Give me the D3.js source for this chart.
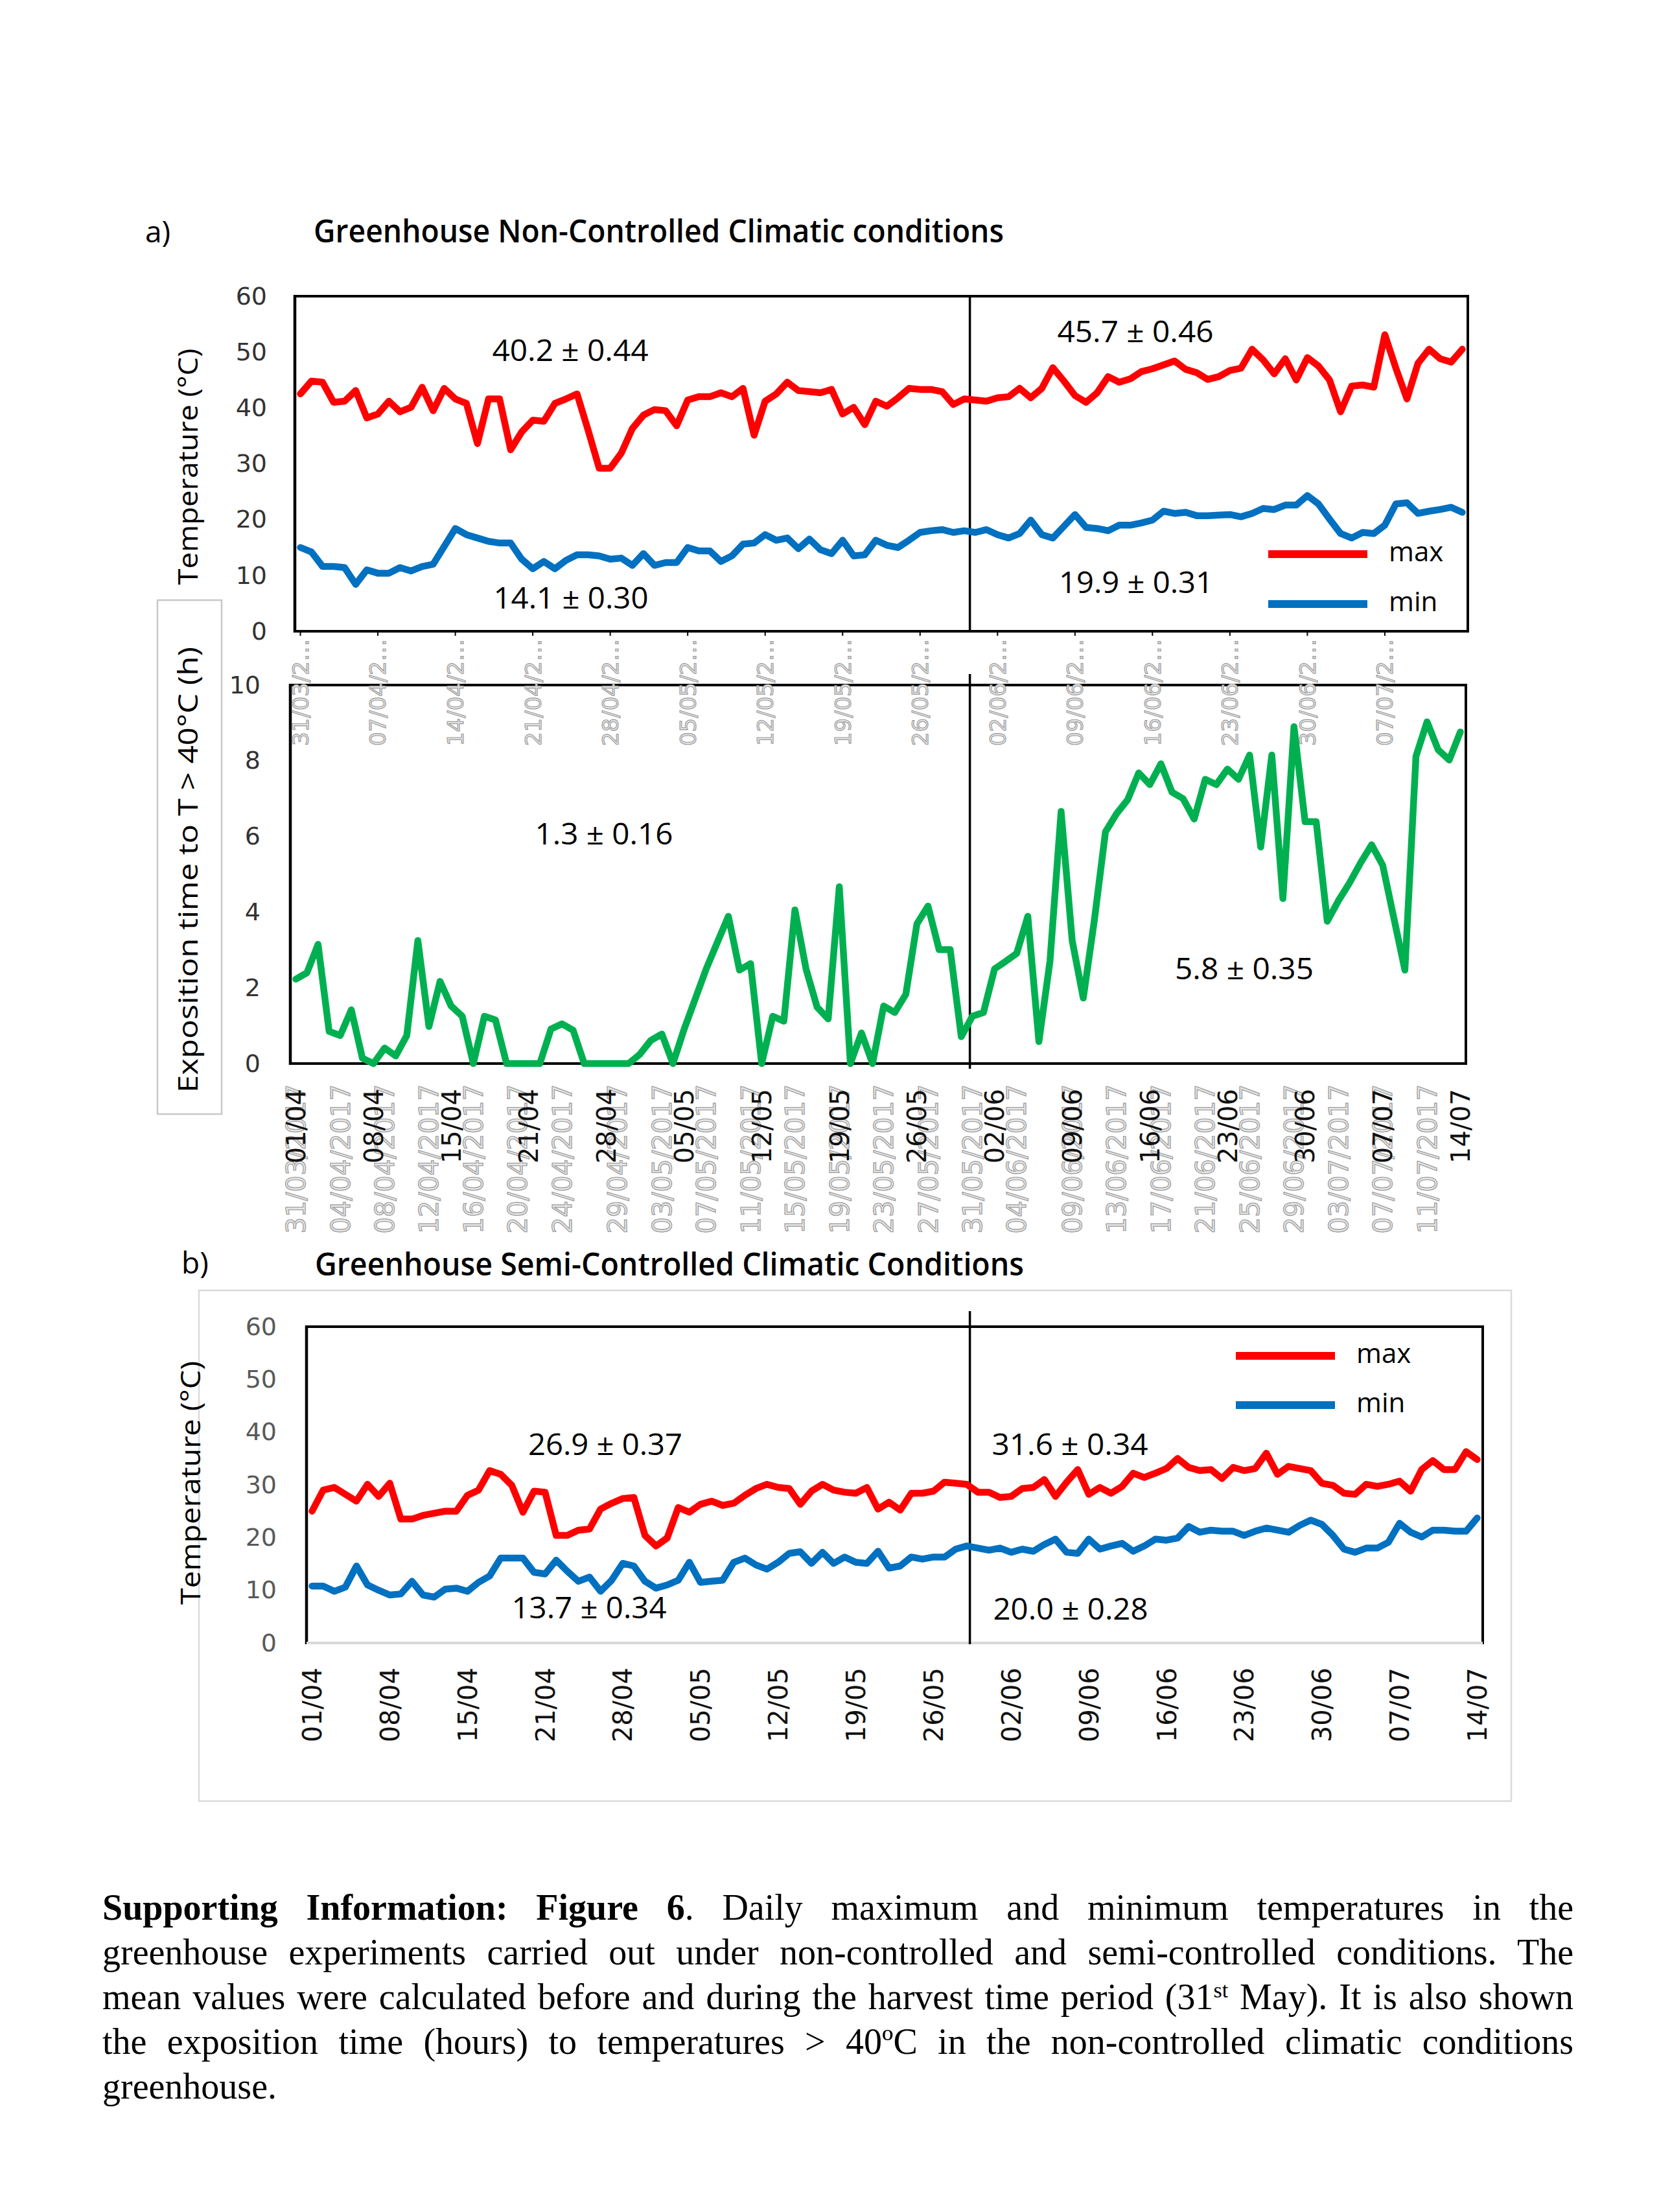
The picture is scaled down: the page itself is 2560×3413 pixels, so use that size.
<!DOCTYPE html>
<html>
<head>
<meta charset="utf-8">
<script src="https://cdn.jsdelivr.net/npm/d3@7"></script>
<style>
  html, body { margin: 0; padding: 0; background: #fff; }
  svg { display: block; }
</style>
</head>
<body>
<script>
// daily values, 31/03 -> 14/07/2017 (106 days)
const maxNonControlled = [
  42.5, 44.8, 44.6, 41.0, 41.2, 43.1, 38.2, 38.9, 41.2, 39.3,
  40.1, 43.7, 39.5, 43.5, 41.6, 40.8, 33.6, 41.6, 41.6, 32.5,
  35.7, 37.8, 37.6, 40.8, 41.6, 42.5, 36.0, 29.2, 29.2, 31.9,
  36.3, 38.7, 39.7, 39.5, 36.8, 41.4, 42.0, 42.0, 42.7, 42.0,
  43.5, 35.1, 41.2, 42.5, 44.6, 43.1, 42.9, 42.7, 43.3, 38.9,
  40.1, 37.0, 41.2, 40.3, 41.8, 43.5, 43.3, 43.3, 42.9, 40.6,
  41.6, 41.4, 41.2, 41.8, 42.0, 43.5, 41.8, 43.5, 47.2, 44.8,
  42.2, 41.0, 42.7, 45.6, 44.6, 45.2, 46.5, 47.0, 47.7, 48.4,
  46.9, 46.3, 45.1, 45.6, 46.7, 47.1, 50.5, 48.6, 46.1, 48.8,
  45.0, 49.0, 47.5, 45.0, 39.3, 43.9, 44.1, 43.7, 53.1, 47.1,
  41.6, 48.0, 50.5, 48.8, 48.2, 50.5
];
const minNonControlled = [
  15.0, 14.2, 11.6, 11.6, 11.4, 8.4, 11.0, 10.4, 10.4, 11.4,
  10.8, 11.6, 12.0, 15.2, 18.4, 17.3, 16.7, 16.1, 15.8, 15.8,
  12.9, 11.2, 12.5, 11.2, 12.7, 13.7, 13.7, 13.5, 12.9, 13.1,
  11.8, 13.9, 11.8, 12.3, 12.3, 15.0, 14.4, 14.4, 12.5, 13.5,
  15.6, 15.8, 17.3, 16.3, 16.7, 14.8, 16.5, 14.6, 13.9, 16.3,
  13.5, 13.7, 16.3, 15.4, 15.0, 16.3, 17.7, 18.0, 18.2, 17.7,
  18.0, 17.7, 18.2, 17.3, 16.7, 17.5, 19.9, 17.3, 16.7, 18.8,
  20.9, 18.6, 18.4, 18.0, 19.0, 19.0, 19.4, 19.9, 21.5, 21.1,
  21.3, 20.7, 20.7, 20.8, 20.9, 20.5, 21.1, 22.0, 21.8, 22.6,
  22.6, 24.3, 22.8, 20.1, 17.5, 16.7, 17.7, 17.5, 19.0, 22.8,
  23.0, 21.1, 21.5, 21.8, 22.2, 21.3
];
const hoursAbove40 = [
  2.23, 2.40, 3.15, 0.85, 0.74, 1.42, 0.14, 0, 0.41, 0.20,
  0.74, 3.25, 0.98, 2.17, 1.52, 1.25, 0, 1.25, 1.15, 0,
  0, 0, 0, 0.91, 1.05, 0.88, 0, 0, 0, 0,
  0, 0.24, 0.61, 0.78, 0, 0.9, 1.7, 2.5, 3.2, 3.89,
  2.47, 2.64, 0, 1.25, 1.12, 4.06, 2.5, 1.49, 1.18, 4.67,
  0, 0.81, 0, 1.52, 1.35, 1.83, 3.69, 4.16, 3.01, 3.01,
  0.71, 1.25, 1.35, 2.50, 2.7, 2.91, 3.89, 0.58, 2.71, 6.66,
  3.25, 1.73, 3.79, 6.12, 6.60, 6.97, 7.68, 7.37, 7.92, 7.17,
  7.0, 6.46, 7.51, 7.37, 7.78, 7.51, 8.15, 5.72, 8.15, 4.36,
  8.90, 6.39, 6.39, 3.76, 4.3, 4.77, 5.3, 5.78, 5.24, 3.85,
  2.47, 8.12, 9.03, 8.29, 8.02, 8.76
];
const maxSemiControlled = [
  25.0, 29.0, 29.5, 28.2, 26.9, 30.1, 27.8, 30.3, 23.5, 23.5,
  24.2, 24.6, 25.0, 25.0, 28.0, 29.0, 32.7, 32.0, 29.9, 24.8,
  28.8, 28.6, 20.4, 20.4, 21.4, 21.6, 25.4, 26.5, 27.4, 27.6,
  20.4, 18.4, 19.9, 25.7, 24.8, 26.3, 26.9, 26.1, 26.5, 28.0,
  29.3, 30.1, 29.5, 29.3, 26.3, 28.8, 30.1, 29.0, 28.6, 28.4,
  29.5, 25.4, 26.7, 25.2, 28.4, 28.4, 28.8, 30.5, 30.3, 30.1,
  28.6, 28.6, 27.6, 27.8, 29.3, 29.5, 31.0, 27.8, 30.5, 32.9,
  28.2, 29.5, 28.4, 29.7, 32.2, 31.4, 32.2, 33.1, 35.0, 33.3,
  32.7, 32.9, 31.2, 33.3, 32.7, 33.1, 36.0, 32.0, 33.5, 33.1,
  32.7, 30.3, 29.9, 28.4, 28.2, 30.1, 29.7, 30.1, 30.7, 28.8,
  32.9, 34.6, 32.9, 32.9, 36.3, 34.8
];
const minSemiControlled = [
  10.8, 10.8, 9.8, 10.6, 14.6, 11.0, 10.0, 9.1, 9.3, 11.7,
  9.1, 8.7, 10.2, 10.4, 9.8, 11.5, 12.7, 16.1, 16.1, 16.1,
  13.4, 13.1, 15.7, 13.6, 11.7, 12.5, 9.8, 11.9, 15.1, 14.6,
  11.7, 10.4, 11.0, 11.9, 15.3, 11.5, 11.7, 11.9, 15.3, 16.1,
  14.8, 14.0, 15.3, 17.0, 17.3, 15.1, 17.2, 15.1, 16.3, 15.3,
  15.1, 17.4, 14.2, 14.6, 16.3, 15.9, 16.3, 16.3, 17.8, 18.4,
  18.0, 17.6, 18.0, 17.2, 17.8, 17.4, 18.7, 19.7, 17.2, 17.0,
  19.7, 17.8, 18.4, 18.9, 17.4, 18.4, 19.7, 19.5, 19.9, 22.1,
  21.0, 21.4, 21.2, 21.2, 20.4, 21.2, 21.8, 21.4, 21.0, 22.3,
  23.3, 22.5, 20.4, 17.8, 17.2, 18.0, 18.0, 19.1, 22.7, 21.0,
  20.1, 21.4, 21.4, 21.2, 21.2, 23.7
];

// axis labels
const truncatedLabelsA = ["31/03/2…", "07/04/2…", "14/04/2…", "21/04/2…", "28/04/2…",
  "05/05/2…", "12/05/2…", "19/05/2…", "26/05/2…", "02/06/2…", "09/06/2…",
  "16/06/2…", "23/06/2…", "30/06/2…", "07/07/2…"];
const weekLabels = ["01/04", "08/04", "15/04", "21/04", "28/04", "05/05", "12/05", "19/05",
  "26/05", "02/06", "09/06", "16/06", "23/06", "30/06", "07/07", "14/07"];
const dateLabels = ["31/03/2017", "04/04/2017", "08/04/2017", "12/04/2017", "16/04/2017",
  "20/04/2017", "24/04/2017", "29/04/2017", "03/05/2017", "07/05/2017", "11/05/2017",
  "15/05/2017", "19/05/2017", "23/05/2017", "27/05/2017", "31/05/2017", "04/06/2017",
  "09/06/2017", "13/06/2017", "17/06/2017", "21/06/2017", "25/06/2017", "29/06/2017",
  "03/07/2017", "07/07/2017", "11/07/2017"];
const tempTicks = [0, 10, 20, 30, 40, 50, 60];
const hourTicks = [0, 2, 4, 6, 8, 10];

const meansNonControlled = ["40.2 ± 0.44", "14.1 ± 0.30", "45.7 ± 0.46", "19.9 ± 0.31"];
const meansHours = ["1.3 ± 0.16", "5.8 ± 0.35"];
const meansSemiControlled = ["26.9 ± 0.37", "13.7 ± 0.34", "31.6 ± 0.34", "20.0 ± 0.28"];
const harvestIndex = 60.5; // between 30/05 and 31/05

const captionLines = [
  { justify: true, parts: [{ t: "Supporting Information: Figure 6", b: true }, { t: ". Daily maximum and minimum temperatures in the" }] },
  { justify: true, parts: [{ t: "greenhouse experiments carried out under non-controlled and semi-controlled conditions. The" }] },
  { justify: true, parts: [{ t: "mean values were calculated before and during the harvest time period (31" }, { t: "st", sup: true }, { t: " May). It is also shown" }] },
  { justify: true, parts: [{ t: "the exposition time (hours) to temperatures > 40ºC in the non-controlled climatic conditions" }] },
  { justify: false, parts: [{ t: "greenhouse." }] }
];

const width = 2560;
const height = 3413;
const sans = "'Open Sans', 'Noto Sans', sans-serif";
const tickFont = "'DejaVu Sans', sans-serif";
const serif = "'Liberation Serif', 'Times New Roman', serif";
const red = "#ff0000", blue = "#0070c0", green = "#00b050";

const svg = d3.select("body").append("svg")
  .attr("width", width)
  .attr("height", height)
  .style("background", "#fff");

const boxA = { left: 455, right: 2265, top: 457, bottom: 974 };
const boxE = { left: 448, right: 2262, top: 1057, bottom: 1641 };
const boxB = { left: 473, right: 2288, top: 2047, bottom: 2535 };

const n = maxNonControlled.length;
const xA = d3.scaleLinear().domain([-0.5, n - 0.5]).range([boxA.left, boxA.right]);
const yA = d3.scaleLinear().domain([0, 60]).range([boxA.bottom, boxA.top]);
const xE = d3.scaleLinear().domain([-0.5, n - 0.5]).range([boxE.left, boxE.right]);
const yE = d3.scaleLinear().domain([0, 10]).range([boxE.bottom, boxE.top]);
const xB = d3.scaleLinear().domain([-0.5, maxSemiControlled.length - 0.5]).range([boxB.left, boxB.right]);
const yB = d3.scaleLinear().domain([0, 60]).range([boxB.bottom, boxB.top]);
const harvestX = xA(harvestIndex);

const parseDate = d3.timeParse("%d/%m/%Y");
const startDate = parseDate(dateLabels[0]);
const dateIndex = dateLabels.map(s => d3.timeDay.count(startDate, parseDate(s)));

function addText(g, txt, x, y, size, opts = {}) {
  const t = g.append("text")
    .attr("x", x).attr("y", y)
    .style("font-family", opts.family || sans)
    .style("font-size", size + "px")
    .style("font-weight", opts.weight || "normal")
    .attr("fill", opts.fill || "#000")
    .attr("text-anchor", opts.anchor || "start")
    .text(txt);
  if (opts.len) t.attr("textLength", opts.len).attr("lengthAdjust", "spacingAndGlyphs");
  return t;
}

function rotatedTitle(txt, cx, cy, len) {
  svg.append("text")
    .attr("transform", `translate(${cx},${cy}) rotate(-90)`)
    .attr("text-anchor", "middle")
    .style("font-family", sans)
    .style("font-size", "42px")
    .attr("textLength", len)
    .attr("lengthAdjust", "spacingAndGlyphs")
    .text(txt);
}

function yAxis(scale, ticks, x, fill, size) {
  svg.append("g")
    .attr("transform", `translate(${x},0)`)
    .call(d3.axisLeft(scale).tickValues(ticks).tickSize(0).tickPadding(0))
    .call(g => g.select(".domain").remove())
    .selectAll("text")
    .attr("fill", fill)
    .style("font-family", tickFont)
    .style("font-size", size + "px");
}

function rotatedLabels(scale, values, labels, yTop, offset, styleFn) {
  const g = svg.append("g")
    .attr("transform", `translate(0,${yTop})`)
    .call(d3.axisBottom(scale).tickValues(values).tickFormat((d, i) => labels[i]).tickSize(0))
    .call(g => g.select(".domain").remove());
  const txt = g.selectAll("text")
    .attr("transform", "rotate(-90)")
    .attr("text-anchor", "end")
    .attr("x", -offset)
    .attr("y", 0)
    .attr("dy", "0.35em")
    .style("font-family", tickFont);
  styleFn(txt);
  return g;
}

function drawBox(b, bottomColor) {
  svg.append("line").attr("x1", b.left).attr("x2", b.right).attr("y1", b.top).attr("y2", b.top)
    .attr("stroke", "#000").attr("stroke-width", 4);
  svg.append("line").attr("x1", b.left).attr("x2", b.left).attr("y1", b.top - 2).attr("y2", b.bottom + 2)
    .attr("stroke", "#000").attr("stroke-width", 4.5);
  svg.append("line").attr("x1", b.right).attr("x2", b.right).attr("y1", b.top - 2).attr("y2", b.bottom + 2)
    .attr("stroke", "#000").attr("stroke-width", 4);
  svg.append("line").attr("x1", b.left).attr("x2", b.right).attr("y1", b.bottom).attr("y2", b.bottom)
    .attr("stroke", bottomColor).attr("stroke-width", 4);
}

function drawSeries(data, x, y, color) {
  svg.append("path")
    .datum(data)
    .attr("fill", "none")
    .attr("stroke", color)
    .attr("stroke-width", 10.5)
    .attr("stroke-linejoin", "round")
    .attr("stroke-linecap", "round")
    .attr("d", d3.line().x((d, i) => x(i)).y(d => y(d)));
}

function legend(b, dxLine, dyMax, dyMin) {
  [[red, "max", dyMax], [blue, "min", dyMin]].forEach(([c, label, dy]) => {
    svg.append("line")
      .attr("x1", b.left + dxLine).attr("x2", b.left + dxLine + 153)
      .attr("y1", b.top + dy).attr("y2", b.top + dy)
      .attr("stroke", c).attr("stroke-width", 12);
    addText(svg, label, b.left + dxLine + 186, b.top + dy + 11, 42);
  });
}

// ---- panel a titles ----
addText(svg, "a)", 224, 374, 46);
addText(svg, "Greenhouse Non-Controlled Climatic conditions", 484, 374, 48, { weight: 600, len: 1065 });

// ---- top chart: temperatures ----
drawBox(boxA, "#000");
svg.append("line").attr("x1", harvestX).attr("x2", harvestX).attr("y1", boxA.top).attr("y2", boxA.bottom)
  .attr("stroke", "#000").attr("stroke-width", 3.5);
drawSeries(maxNonControlled, xA, yA, red);
drawSeries(minNonControlled, xA, yA, blue);
yAxis(yA, tempTicks, 412, "#333", 38);
rotatedTitle("Temperature (°C)", 305, 720, 365);

addText(svg, meansNonControlled[0], boxA.left + 425, boxA.top + 100, 46, { anchor: "middle", len: 241 });
addText(svg, meansNonControlled[1], boxA.left + 426, boxA.top + 482, 46, { anchor: "middle", len: 239 });
addText(svg, meansNonControlled[2], boxA.left + 1297, boxA.top + 71, 46, { anchor: "middle", len: 241 });
addText(svg, meansNonControlled[3], boxA.left + 1298, boxA.top + 458, 46, { anchor: "middle", len: 238 });
legend(boxA, 1502, 398, 475);

// ---- middle chart: exposition time ----
drawBox(boxE, "#000");
svg.append("line").attr("x1", harvestX).attr("x2", harvestX).attr("y1", boxE.top - 17).attr("y2", boxE.bottom + 8)
  .attr("stroke", "#000").attr("stroke-width", 3.5);
drawSeries(hoursAbove40, xE, yE, green);
yAxis(yE, hourTicks, 402, "#333", 38);

svg.append("rect")
  .attr("x", 243).attr("y", 926).attr("width", 99).attr("height", 793)
  .attr("fill", "none").attr("stroke", "#c8c8c8").attr("stroke-width", 2.5);
rotatedTitle("Exposition time to T > 40°C (h)", 305, 1342, 688);

addText(svg, meansHours[0], boxE.left + 484, boxE.top + 246, 46, { anchor: "middle", len: 213 });
addText(svg, meansHours[1], boxE.left + 1472, boxE.top + 454, 46, { anchor: "middle", len: 214 });

// top chart category labels (truncated, spilling into middle chart)
const tickIdxA = truncatedLabelsA.map((d, i) => i * 7);
svg.append("g")
  .selectAll("line")
  .data(tickIdxA)
  .join("line")
  .attr("x1", d => xA(d)).attr("x2", d => xA(d))
  .attr("y1", boxA.bottom).attr("y2", boxA.bottom + 7)
  .attr("stroke", "#000").attr("stroke-width", 2);
rotatedLabels(xA, tickIdxA, truncatedLabelsA, boxA.bottom, 12, t => t
  .style("font-size", "34px").attr("fill", "#e3e3e3").attr("stroke", "#9e9e9e").attr("stroke-width", 1.2));

// middle chart labels: grey full dates below, black week labels on top
rotatedLabels(xE, dateIndex, dateLabels, boxE.bottom, 32, t => t
  .style("font-size", "40px").attr("fill", "#e6e6e6").attr("stroke", "#a0a0a0").attr("stroke-width", 1.3));
rotatedLabels(xE, weekLabels.map((d, i) => i * 7), weekLabels, boxE.bottom, 39, t => t
  .style("font-size", "40px").attr("fill", "#111"));

// ---- panel b ----
addText(svg, "b)", 280, 1965, 46);
addText(svg, "Greenhouse Semi-Controlled Climatic Conditions", 486, 1968, 48, { weight: 600, len: 1094 });

svg.append("rect")
  .attr("x", 307).attr("y", 1991).attr("width", 2025).attr("height", 788)
  .attr("fill", "none").attr("stroke", "#dadada").attr("stroke-width", 2.5);

drawBox(boxB, "#d9d9d9");
svg.append("line").attr("x1", harvestX).attr("x2", harvestX).attr("y1", boxB.top - 24).attr("y2", boxB.bottom + 2)
  .attr("stroke", "#000").attr("stroke-width", 3.5);
drawSeries(maxSemiControlled, xB, yB, red);
drawSeries(minSemiControlled, xB, yB, blue);
yAxis(yB, tempTicks, 427, "#595959", 38);
rotatedTitle("Temperature (°C)", 309, 2288, 376);

addText(svg, meansSemiControlled[0], boxB.left + 461, boxB.top + 198, 46, { anchor: "middle", len: 238 });
addText(svg, meansSemiControlled[1], boxB.left + 436, boxB.top + 450, 46, { anchor: "middle", len: 239 });
addText(svg, meansSemiControlled[2], boxB.left + 1178, boxB.top + 198, 46, { anchor: "middle", len: 241 });
addText(svg, meansSemiControlled[3], boxB.left + 1179, boxB.top + 452, 46, { anchor: "middle", len: 239 });
legend(boxB, 1434, 45, 121);

rotatedLabels(xB, weekLabels.map((d, i) => i * 7), weekLabels, boxB.bottom, 38, t => t
  .style("font-size", "40px").attr("fill", "#111"));

// ---- caption ----
const capLeft = 158, capWidth = 2270;
captionLines.forEach((line, i) => {
  const t = svg.append("text")
    .attr("x", capLeft)
    .attr("y", 2962 + i * 68.9)
    .style("font-family", serif)
    .style("font-size", "56px")
    .attr("fill", "#000");
  line.parts.forEach(p => {
    const s = t.append("tspan").text(p.t);
    if (p.b) s.style("font-weight", "bold");
    if (p.sup) s.attr("baseline-shift", "super").style("font-size", "34px");
  });
  if (line.justify) {
    const full = line.parts.map(p => p.t).join("");
    const spaces = full.split(" ").length - 1;
    const natural = t.node().getComputedTextLength();
    t.style("word-spacing", ((capWidth - natural) / spaces) + "px");
  }
});
</script>
</body>
</html>
